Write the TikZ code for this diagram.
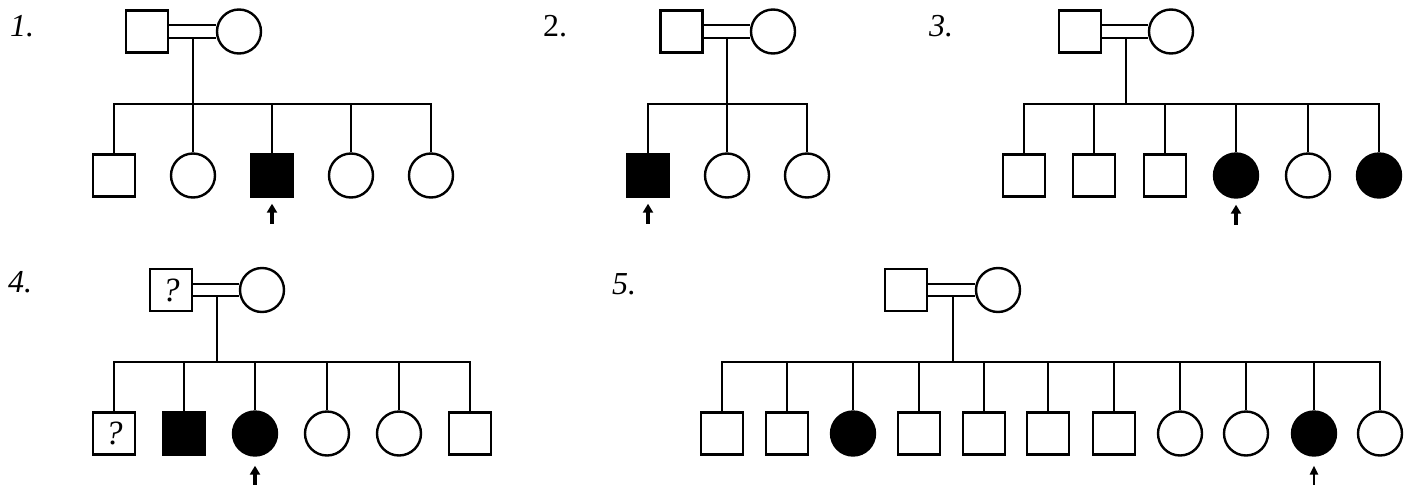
\documentclass[tikz,border=0pt]{standalone}
\usepackage{fontspec}
\setmainfont{Liberation Serif}
\usetikzlibrary{arrows.meta}
\begin{document}
\begin{tikzpicture}[x=1pt,y=-1pt,
  lw/.style={line width=2.4pt},
  male/.style={draw,lw,rectangle,minimum size=42pt,inner sep=0pt,fill=white},
  maleA/.style={male,fill=black},
  fem/.style={draw,lw,circle,minimum size=44pt,inner sep=0pt,fill=white},
  femA/.style={fem,fill=black},
  link/.style={lw},
  proband/.style={line width=3.2pt,-{Triangle[length=9pt,width=10pt]}},
  numlab/.style={anchor=base west,inner sep=0pt,font=\fontsize{32}{32}\selectfont\itshape},
  qmark/.style={font=\fontsize{34}{34}\selectfont\itshape}]
\useasboundingbox[fill=white] (0,0) rectangle (1409,485);

% labels
\node[numlab] (l1) at (10,36) {1.};
\node[numlab,font=\fontsize{32}{32}\selectfont] (l2) at (543,36) {2.};
\node[numlab] (l3) at (929,36) {3.};
\node[numlab] (l4) at (8,292) {4.};
\node[numlab] (l5) at (612,294) {5.};

% ---------- pedigree 1
\node[male] (a-f) at (147,31.5) {};
\node[fem]  (a-m) at (239,31.5) {};
\draw[link] ([yshift=6.5pt]a-f.east) -- ([yshift=6.5pt]a-m.west);
\draw[link] ([yshift=-6.5pt]a-f.east) -- ([yshift=-6.5pt]a-m.west);
\coordinate (a-v) at (193,38);
\coordinate (a-s) at (193,104);
\node[male]  (a-1) at (114,175.5) {};
\node[fem]   (a-2) at (193,175.5) {};
\node[maleA] (a-3) at (272,175.5) {};
\node[fem]   (a-4) at (351,175.5) {};
\node[fem]   (a-5) at (431,175.5) {};
\draw[link] (a-v) -- (a-s);
\draw[link] (a-1.north) |- (a-s) -| (a-5.north);
\foreach \k in {2,3,4} \draw[link] (a-\k.north) -- (a-\k.north |- a-s);
\draw[proband] ([yshift=-26pt]a-3.south) -- ([yshift=-6pt]a-3.south);

% ---------- pedigree 2
\node[male] (b-f) at (681.5,31.5) {};
\node[fem]  (b-m) at (773,31.5) {};
\draw[link] ([yshift=6.5pt]b-f.east) -- ([yshift=6.5pt]b-m.west);
\draw[link] ([yshift=-6.5pt]b-f.east) -- ([yshift=-6.5pt]b-m.west);
\coordinate (b-v) at (727,38);
\coordinate (b-s) at (727,104);
\node[maleA] (b-1) at (648,175.5) {};
\node[fem]   (b-2) at (727,175.5) {};
\node[fem]   (b-3) at (807,175.5) {};
\draw[link] (b-v) -- (b-s);
\draw[link] (b-1.north) |- (b-s) -| (b-3.north);
\draw[link] (b-2.north) -- (b-2.north |- b-s);
\draw[proband] ([yshift=-26pt]b-1.south) -- ([yshift=-6pt]b-1.south);

% ---------- pedigree 3
\node[male] (c-f) at (1080,31.5) {};
\node[fem]  (c-m) at (1171,31.5) {};
\draw[link] ([yshift=6.5pt]c-f.east) -- ([yshift=6.5pt]c-m.west);
\draw[link] ([yshift=-6.5pt]c-f.east) -- ([yshift=-6.5pt]c-m.west);
\coordinate (c-v) at (1126,38);
\coordinate (c-s) at (1126,104);
\node[male] (c-1) at (1024,175.5) {};
\node[male] (c-2) at (1094,175.5) {};
\node[male] (c-3) at (1165,175.5) {};
\node[femA] (c-4) at (1236,175.5) {};
\node[fem]  (c-5) at (1308,175.5) {};
\node[femA] (c-6) at (1379,175.5) {};
\draw[link] (c-v) -- (c-s);
\draw[link] (c-1.north) |- (c-s) -| (c-6.north);
\foreach \k in {2,3,4,5} \draw[link] (c-\k.north) -- (c-\k.north |- c-s);
\draw[proband] ([yshift=-26pt]c-4.south) -- ([yshift=-6pt]c-4.south);

% ---------- pedigree 4
\node[male,qmark] (d-f) at (171,290) {?};
\node[fem]  (d-m) at (262,290) {};
\draw[link] ([yshift=6pt]d-f.east) -- ([yshift=6pt]d-m.west);
\draw[link] ([yshift=-6pt]d-f.east) -- ([yshift=-6pt]d-m.west);
\coordinate (d-v) at (217,296);
\coordinate (d-s) at (217,362);
\node[male,qmark] (d-1) at (114,433.5) {?};
\node[maleA] (d-2) at (184,433.5) {};
\node[femA]  (d-3) at (255,433.5) {};
\node[fem]   (d-4) at (327,433.5) {};
\node[fem]   (d-5) at (399,433.5) {};
\node[male]  (d-6) at (470,433.5) {};
\draw[link] (d-v) -- (d-s);
\draw[link] (d-1.north) |- (d-s) -| (d-6.north);
\foreach \k in {2,3,4,5} \draw[link] (d-\k.north) -- (d-\k.north |- d-s);
\draw[proband] ([yshift=-28pt]d-3.south) -- ([yshift=-9pt]d-3.south);

% ---------- pedigree 5
\node[male] (e-f) at (906,290) {};
\node[fem]  (e-m) at (998,290) {};
\draw[link] ([yshift=6pt]e-f.east) -- ([yshift=6pt]e-m.west);
\draw[link] ([yshift=-6pt]e-f.east) -- ([yshift=-6pt]e-m.west);
\coordinate (e-v) at (953,296);
\coordinate (e-s) at (953,362);
\node[male] (e-1) at (722,433.5) {};
\node[male] (e-2) at (787,433.5) {};
\node[femA] (e-3) at (853,433.5) {};
\node[male] (e-4) at (919,433.5) {};
\node[male] (e-5) at (984,433.5) {};
\node[male] (e-6) at (1048,433.5) {};
\node[male] (e-7) at (1114,433.5) {};
\node[fem]  (e-8) at (1180,433.5) {};
\node[fem]  (e-9) at (1246,433.5) {};
\node[femA] (e-10) at (1314,433.5) {};
\node[fem]  (e-11) at (1380,433.5) {};
\draw[link] (e-v) -- (e-s);
\draw[link] (e-1.north) |- (e-s) -| (e-11.north);
\foreach \k in {2,3,4,5,6,7,8,9,10} \draw[link] (e-\k.north) -- (e-\k.north |- e-s);
\draw[proband,line width=2.4pt,-{Triangle[length=9pt,width=8pt]}] ([yshift=-28pt]e-10.south) -- ([yshift=-9pt]e-10.south);
\end{tikzpicture}
\end{document}
